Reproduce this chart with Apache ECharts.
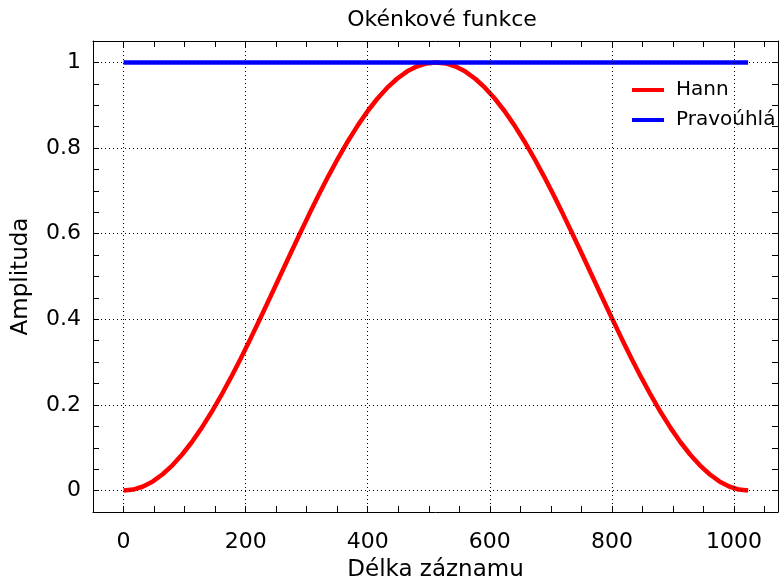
<!DOCTYPE html>
<html>
<head>
<meta charset="utf-8">
<script src="https://cdn.jsdelivr.net/npm/echarts@6.0.0/dist/echarts.min.js"></script>
<style>
  html, body { margin: 0; padding: 0; background: #fff; }
  #chart { width: 779px; height: 583px; }
</style>
</head>
<body>
<div id="chart"></div>
<script>
  'use strict';

  // sample positions (x) of the Hann window
  var hannX = [0, 16, 32, 48, 64, 80, 96, 112, 128, 144, 160, 176, 192, 208, 224, 240,
    256, 272, 288, 304, 320, 336, 352, 368, 384, 400, 416, 432, 448, 464, 480, 496,
    512, 528, 544, 560, 576, 592, 608, 624, 640, 656, 672, 688, 704, 720, 736, 752,
    768, 784, 800, 816, 832, 848, 864, 880, 896, 912, 928, 944, 960, 976, 992, 1008, 1023];
  var hannY = [0, 0.0024, 0.0096, 0.0215, 0.0381, 0.0590, 0.0843, 0.1135, 0.1464, 0.1828,
    0.2222, 0.2643, 0.3087, 0.3549, 0.4025, 0.4510, 0.5, 0.5490, 0.5975, 0.6451, 0.6913,
    0.7357, 0.7778, 0.8172, 0.8536, 0.8865, 0.9157, 0.9410, 0.9619, 0.9785, 0.9904, 0.9976,
    1, 0.9976, 0.9904, 0.9785, 0.9619, 0.9410, 0.9157, 0.8865, 0.8536, 0.8172, 0.7778,
    0.7357, 0.6913, 0.6451, 0.5975, 0.5490, 0.5, 0.4510, 0.4025, 0.3549, 0.3087, 0.2643,
    0.2222, 0.1828, 0.1464, 0.1135, 0.0843, 0.0590, 0.0381, 0.0215, 0.0096, 0.0024, 0];

  var rectX = [0, 1023];
  var rectY = [1, 1];

  var seriesNames = ['Hann', 'Pravoúhlá'];
  var xGridTicks = [0, 200, 400, 600, 800, 1000];
  var yGridTicks = [0, 0.2, 0.4, 0.6, 0.8, 1];

  var FONT = 'DejaVu Sans';

  function zip(xs, ys) {
    var out = [];
    for (var i = 0; i < xs.length; i++) {
      out.push([xs[i], ys[i]]);
    }
    return out;
  }

  function xLabel(v) {
    return xGridTicks.indexOf(Math.round(v)) >= 0 ? String(Math.round(v)) : '';
  }

  function yLabel(v) {
    var r = Math.round(v * 5);
    if (Math.abs(v * 5 - r) < 1e-6 && r >= 0) {
      return String(r / 5);
    }
    return '';
  }

  var frameLine = { show: true, onZero: false, lineStyle: { color: '#000', width: 1 } };
  var tick = { show: true, inside: true, length: 6, lineStyle: { color: '#000', width: 1 } };

  var gridMarks = [];
  xGridTicks.forEach(function (v) { gridMarks.push({ xAxis: v }); });
  yGridTicks.forEach(function (v) { gridMarks.push({ yAxis: v }); });

  var myChart = echarts.init(document.getElementById('chart'));

  var option = {
    animation: false,
    backgroundColor: '#fff',
    textStyle: { fontFamily: FONT },
    title: {
      text: 'Okénkové funkce',
      left: 437,
      textAlign: 'center',
      top: 4,
      textStyle: { fontFamily: FONT, fontSize: 22, fontWeight: 'normal', color: '#000' }
    },
    legend: {
      data: seriesNames,
      orient: 'vertical',
      left: 627,
      top: 74,
      icon: 'rect',
      itemWidth: 32,
      itemHeight: 4,
      itemGap: 8,
      textStyle: { fontFamily: FONT, fontSize: 20, color: '#000', lineHeight: 22, padding: [0, 0, 0, 7] }
    },
    grid: {
      left: 93,
      right: 1,
      top: 41,
      bottom: 71,
      containLabel: false,
      outerBoundsMode: 'none'
    },
    xAxis: [{
      type: 'value',
      position: 'bottom',
      min: -50,
      max: 1072,
      interval: 50,
      name: 'Délka záznamu',
      nameLocation: 'middle',
      nameGap: 47,
      nameTextStyle: { fontFamily: FONT, fontSize: 23, color: '#000' },
      axisLine: frameLine,
      axisTick: tick,
      axisLabel: { formatter: xLabel, margin: 19, fontFamily: FONT, fontSize: 22, color: '#000' },
      splitLine: { show: false }
    }, {
      type: 'value',
      position: 'top',
      min: -50,
      max: 1072,
      interval: 50,
      axisLine: frameLine,
      axisTick: tick,
      axisLabel: { show: false },
      splitLine: { show: false }
    }],
    yAxis: [{
      type: 'value',
      position: 'left',
      min: -0.05,
      max: 1.05,
      interval: 0.05,
      name: 'Amplituda',
      nameLocation: 'middle',
      nameGap: 60,
      nameTextStyle: { fontFamily: FONT, fontSize: 23, color: '#000' },
      axisLine: frameLine,
      axisTick: tick,
      axisLabel: { formatter: yLabel, margin: 12, fontFamily: FONT, fontSize: 22, color: '#000' },
      splitLine: { show: false }
    }, {
      type: 'value',
      position: 'right',
      min: -0.05,
      max: 1.05,
      interval: 0.05,
      axisLine: frameLine,
      axisTick: tick,
      axisLabel: { show: false },
      splitLine: { show: false }
    }],
    series: [{
      name: seriesNames[0],
      type: 'line',
      data: zip(hannX, hannY),
      showSymbol: false,
      symbol: 'none',
      smooth: false,
      color: '#ff0000',
      lineStyle: { color: '#ff0000', width: 4.5 }
    }, {
      name: seriesNames[1],
      type: 'line',
      data: zip(rectX, rectY),
      showSymbol: false,
      symbol: 'none',
      color: '#0000ff',
      lineStyle: { color: '#0000ff', width: 4.5 },
      markLine: {
        silent: true,
        symbol: ['none', 'none'],
        label: { show: false },
        lineStyle: { color: '#000', type: [1, 3], width: 1 },
        data: gridMarks
      }
    }]
  };

  myChart.setOption(option);
</script>
</body>
</html>
